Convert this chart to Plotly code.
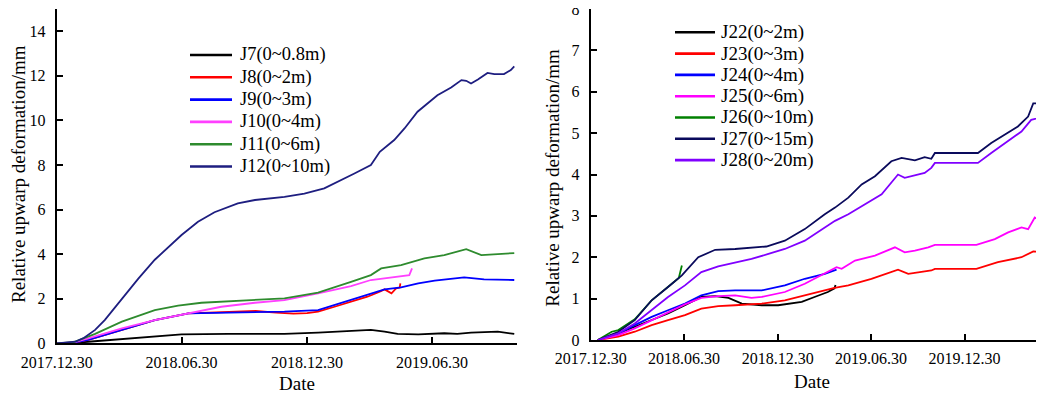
import pandas as pd
import plotly.graph_objects as go

START = pd.Timestamp("2017-12-30")
FONT = "Liberation Serif"

# ---------------- data: left panel (days since 2017.12.30, deformation mm) ----------------
left_names = ["J7(0~0.8m)", "J8(0~2m)", "J9(0~3m)", "J10(0~4m)", "J11(0~6m)", "J12(0~10m)"]
left_colors = ["#000000", "#ff0000", "#0000ff", "#ff40ff", "#2e8b2e", "#1e1e80"]

j7_days = [0, 20, 46, 95, 143, 182, 250, 300, 332, 381, 429, 458, 478, 497, 527, 565, 584, 604, 643, 667]
j7_vals = [0, 0.01, 0.07, 0.19, 0.3, 0.4, 0.42, 0.43, 0.42, 0.48, 0.54, 0.6, 0.52, 0.42, 0.4, 0.45, 0.42, 0.48, 0.52, 0.42]

j8_days = [0, 25, 46, 95, 143, 192, 240, 270, 290, 320, 345, 365, 381, 405, 429, 453, 470, 478, 488, 495, 500, 501]
j8_vals = [0, 0.03, 0.15, 0.6, 1.04, 1.34, 1.4, 1.45, 1.45, 1.38, 1.33, 1.35, 1.42, 1.64, 1.87, 2.09, 2.3, 2.42, 2.24, 2.47, 2.5, 2.69]

j9_days = [0, 25, 46, 95, 143, 192, 240, 290, 332, 381, 429, 458, 478, 502, 527, 551, 594, 623, 667]
j9_vals = [0, 0.03, 0.15, 0.6, 1.04, 1.34, 1.36, 1.37, 1.42, 1.49, 1.94, 2.24, 2.42, 2.51, 2.69, 2.81, 2.96, 2.87, 2.84]

j10_days = [0, 25, 46, 95, 143, 192, 240, 289, 332, 381, 429, 458, 488, 514, 518]
j10_vals = [0, 0.04, 0.22, 0.67, 1.04, 1.34, 1.64, 1.82, 1.94, 2.24, 2.57, 2.84, 2.96, 3.06, 3.36]

j11_days = [0, 25, 56, 95, 143, 177, 211, 264, 332, 347, 381, 429, 458, 473, 502, 536, 565, 597, 619, 643, 667]
j11_vals = [0, 0.05, 0.42, 0.97, 1.49, 1.69, 1.82, 1.91, 2.02, 2.09, 2.27, 2.76, 3.06, 3.36, 3.51, 3.81, 3.96, 4.22, 3.96, 4.0, 4.05]

j12_days = [0, 27, 40, 56, 70, 95, 119, 143, 165, 182, 206, 230, 264, 289, 332, 361, 390, 415, 434, 458, 471,
            492, 507, 526, 541, 555, 575, 590, 597, 604, 614, 628, 638, 652, 662, 667]
j12_vals = [0, 0.07, 0.25, 0.6, 1.04, 2.0, 2.9, 3.75, 4.4, 4.86, 5.45, 5.88, 6.28, 6.43, 6.57, 6.72, 6.95, 7.32, 7.62, 8.0, 8.59,
            9.12, 9.64, 10.39, 10.76, 11.13, 11.48, 11.81, 11.78, 11.66, 11.84, 12.13, 12.08, 12.08, 12.26, 12.43]

left_days = [j7_days, j8_days, j9_days, j10_days, j11_days, j12_days]
left_vals = [j7_vals, j8_vals, j9_vals, j10_vals, j11_vals, j12_vals]

# ---------------- data: right panel ----------------
right_names = ["J22(0~2m)", "J23(0~3m)", "J24(0~4m)", "J25(0~6m)", "J26(0~10m)", "J27(0~15m)", "J28(0~20m)"]
right_colors = ["#000000", "#ff0000", "#0000ff", "#ff00ff", "#008000", "#0a0a5c", "#8000ff"]

j22_days = [14, 54, 86, 119, 151, 184, 216, 243, 269, 295, 334, 366, 412, 437, 463, 476, 478]
j22_vals = [0, 0.16, 0.32, 0.48, 0.64, 0.84, 1.04, 1.06, 1.02, 0.88, 0.84, 0.84, 0.92, 1.04, 1.16, 1.25, 1.33]

j23_days = [14, 54, 86, 119, 151, 184, 216, 249, 282, 334, 379, 418, 457, 476, 503, 548, 600, 620, 665, 672,
            753, 795, 841, 864, 884]
j23_vals = [0, 0.08, 0.2, 0.36, 0.48, 0.6, 0.76, 0.82, 0.84, 0.88, 0.96, 1.08, 1.2, 1.26, 1.32, 1.48, 1.7, 1.6, 1.68, 1.72,
            1.72, 1.88, 2.0, 2.14, 2.12]

j24_days = [14, 54, 86, 119, 151, 184, 216, 249, 282, 334, 379, 418, 457, 480]
j24_vals = [0, 0.16, 0.36, 0.56, 0.72, 0.88, 1.08, 1.18, 1.2, 1.2, 1.32, 1.48, 1.6, 1.7]

j25_days = [14, 54, 86, 119, 151, 184, 216, 249, 282, 314, 334, 379, 418, 457, 480, 490, 516, 555, 594, 613,
            633, 659, 672, 753, 789, 815, 841, 854, 867, 880, 884]
j25_vals = [0, 0.12, 0.28, 0.48, 0.68, 0.86, 1.02, 1.06, 1.08, 1.02, 1.04, 1.16, 1.36, 1.6, 1.76, 1.72, 1.92, 2.04, 2.24, 2.12,
            2.16, 2.24, 2.3, 2.3, 2.44, 2.6, 2.72, 2.68, 2.96, 2.88, 3.0]

j26_days = [14, 41, 54, 86, 119, 151, 172, 178]
j26_vals = [0, 0.2, 0.24, 0.5, 0.96, 1.28, 1.5, 1.8]

j27_days = [14, 54, 86, 119, 151, 178, 210, 243, 282, 343, 379, 418, 457, 477, 503, 529, 555, 587, 607, 633,
            652, 665, 672, 756, 782, 808, 834, 854, 864, 877, 884]
j27_vals = [0, 0.2, 0.48, 0.96, 1.28, 1.56, 2.0, 2.18, 2.2, 2.26, 2.4, 2.68, 3.04, 3.2, 3.44, 3.76, 3.96, 4.32, 4.4, 4.34,
            4.42, 4.38, 4.52, 4.52, 4.76, 4.96, 5.16, 5.4, 5.72, 5.72, 5.8]

j28_days = [14, 54, 86, 119, 151, 184, 216, 249, 282, 314, 347, 379, 418, 457, 477, 503, 536, 568, 600, 613,
            652, 665, 672, 756, 782, 815, 841, 860, 884]
j28_vals = [0, 0.16, 0.4, 0.72, 1.04, 1.32, 1.64, 1.78, 1.88, 1.96, 2.08, 2.2, 2.4, 2.72, 2.88, 3.04, 3.28, 3.52, 4.0, 3.92,
            4.04, 4.16, 4.28, 4.28, 4.52, 4.8, 5.04, 5.32, 5.4]

right_days = [j22_days, j23_days, j24_days, j25_days, j26_days, j27_days, j28_days]
right_vals = [j22_vals, j23_vals, j24_vals, j25_vals, j26_vals, j27_vals, j28_vals]

left_ticks = ["2017-12-30", "2018-06-30", "2018-12-30", "2019-06-30"]
right_ticks = ["2017-12-30", "2018-06-30", "2018-12-30", "2019-06-30", "2019-12-30"]
left_yticks = [0, 2, 4, 6, 8, 10, 12, 14]
right_yticks = [0, 1, 2, 3, 4, 5, 6, 7, 8]


def to_dates(days):
    return START + pd.to_timedelta(days, unit="D")


def tick_text(ticks):
    return [t.replace("-", ".") for t in ticks]


# The page body has an 8px default margin, so the figure is sized to fit the
# 1044x397 window and page positions are converted into paper fractions.
OFF = 8
W, H = 1044 - OFF, 397 - OFF


def px(x):
    return min(max((x - OFF) / W, 0.0), 1.0)


def py(y):
    return min(max(1 - (y - OFF) / H, 0.0), 1.0)


fig = go.Figure()
for name, color, d, v in zip(left_names, left_colors, left_days, left_vals):
    fig.add_trace(go.Scatter(x=to_dates(d), y=v, name=name, mode="lines",
                             line=dict(color=color, width=1.8), xaxis="x", yaxis="y", showlegend=False))
for name, color, d, v in zip(right_names, right_colors, right_days, right_vals):
    fig.add_trace(go.Scatter(x=to_dates(d), y=v, name=name, mode="lines",
                             line=dict(color=color, width=1.8), xaxis="x2", yaxis="y2", showlegend=False))

tickfont = dict(family=FONT, size=16, color="black")
common_x = dict(type="date", showline=True, linecolor="black", linewidth=2, ticks="inside", ticklen=6,
                tickwidth=1.5, tickcolor="black", showgrid=False, zeroline=False, tickfont=tickfont,
                ticklabelstandoff=3, automargin=False)
common_y = dict(showline=True, linecolor="black", linewidth=2, ticks="inside", ticklen=6, tickwidth=1.5,
                tickcolor="black", showgrid=False, zeroline=False, tickfont=tickfont, ticklabelstandoff=6,
                automargin=False, ticklabeloverflow="allow")

fig.update_layout(
    template="none",
    width=W, height=H, margin=dict(l=0, r=0, t=0, b=0, autoexpand=False),
    paper_bgcolor="white", plot_bgcolor="white", showlegend=False,
    font=dict(family=FONT, color="black"),
    xaxis=dict(domain=[px(56.7), px(517)], range=[START, START + pd.Timedelta(days=671)],
               tickvals=left_ticks, ticktext=tick_text(left_ticks), anchor="y", **common_x),
    yaxis=dict(domain=[py(343.3), py(9)], range=[0, 15], tickvals=left_yticks, anchor="x", **common_y),
    xaxis2=dict(domain=[px(590.7), px(1044)], range=[START, START + pd.Timedelta(days=885)],
                tickvals=right_ticks, ticktext=tick_text(right_ticks), anchor="y2", **common_x),
    yaxis2=dict(domain=[py(340), py(9)], range=[0, 8], tickvals=right_yticks, anchor="x2", **common_y),
)

title_font = dict(family=FONT, size=19, color="black")
ann = [
    dict(text="Relative upwarp deformation/mm", x=px(18), y=py(174), textangle=-90),
    dict(text="Relative upwarp deformation/mm", x=px(551.7), y=py(178), textangle=-90),
    dict(text="Date", x=px(297), y=py(383)),
    dict(text="Date", x=px(812), y=py(381)),
]
for a in ann:
    fig.add_annotation(xref="paper", yref="paper", showarrow=False, xanchor="center", yanchor="middle",
                       font=title_font, **a)

# hand-built legends (row spacing tighter than plotly's native legend allows)
def add_legend(names, colors, x_line0, x_line1, x_text, y0, dy, fsize):
    for i, (n, c) in enumerate(zip(names, colors)):
        yy = py(y0 + i * dy)
        fig.add_shape(type="line", xref="paper", yref="paper", x0=px(x_line0), x1=px(x_line1), y0=yy, y1=yy,
                      line=dict(color=c, width=2.6))
        fig.add_annotation(xref="paper", yref="paper", x=px(x_text), y=yy, text=n, showarrow=False,
                           xanchor="left", yanchor="middle", font=dict(family=FONT, size=fsize, color="black"))


add_legend(left_names, left_colors, 190, 232, 238, 55, 22.3, 18.5)
add_legend(right_names, right_colors, 675, 715, 719, 32.3, 21.3, 19)

fig.write_html("out.html")
